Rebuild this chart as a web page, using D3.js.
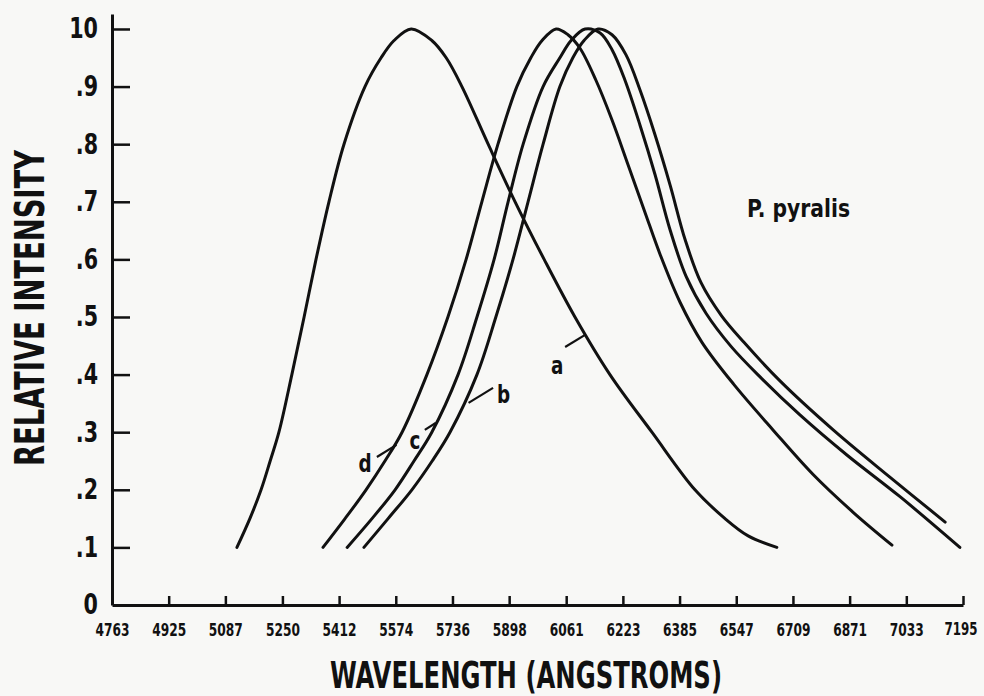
<!DOCTYPE html>
<html lang="en">
<head>
<meta charset="UTF-8">
<title>P. pyralis relative intensity</title>
<script src="https://d3js.org/d3.v7.min.js"></script>
<style>
    html, body { margin: 0; padding: 0; background: #f8f8f6; }
    svg { display: block; }
    text {
        font-family: "Liberation Sans Narrow", "DejaVu Sans Condensed", "Arial Narrow", sans-serif;
        font-weight: bold;
        fill: #111;
    }
    .curve { fill: none; stroke: #111; stroke-width: 3; stroke-linejoin: round; stroke-linecap: round; }
    .leader { stroke: #111; stroke-width: 2.2; }
</style>
</head>
<body>
<svg id="chart" width="984" height="696"></svg>
<script>
// wavelength (angstroms) tick marks and intensity ticks
const xTicks = [4763, 4925, 5087, 5250, 5412, 5574, 5736, 5898, 6061, 6223, 6385, 6547, 6709, 6871, 7033, 7195];
const yTicks = [0, 0.1, 0.2, 0.3, 0.4, 0.5, 0.6, 0.7, 0.8, 0.9, 1.0];
const yTickLabels = ["0", ".1", ".2", ".3", ".4", ".5", ".6", ".7", ".8", ".9", "10"];

// curves: [wavelength, relative intensity]
const curveA = [
    [5120, 0.10], [5157, 0.15], [5189, 0.20], [5215, 0.25], [5240, 0.30], [5277, 0.40],
    [5312, 0.50], [5346, 0.60], [5383, 0.70], [5426, 0.80], [5486, 0.90], [5532, 0.95],
    [5569, 0.98], [5618, 1.0],
    [5677, 0.98], [5718, 0.95], [5763, 0.90], [5838, 0.80], [5915, 0.70], [5998, 0.60],
    [6086, 0.50], [6186, 0.40], [6306, 0.30], [6429, 0.20], [6515, 0.15], [6581, 0.12],
    [6663, 0.10]
];
const curveB = [
    [5483, 0.10], [5552, 0.15], [5620, 0.20], [5678, 0.25], [5729, 0.30], [5806, 0.40],
    [5860, 0.50], [5909, 0.60], [5952, 0.70], [5995, 0.80], [6043, 0.90], [6080, 0.95],
    [6112, 0.98], [6152, 1.0],
    [6192, 0.990], [6232, 0.955], [6272, 0.894], [6315, 0.816], [6358, 0.729], [6401, 0.634],
    [6446, 0.560], [6504, 0.503], [6569, 0.456], [6672, 0.389], [6824, 0.304], [6986, 0.222],
    [7144, 0.144]
];
const curveC = [
    [5435, 0.10], [5506, 0.15], [5572, 0.20], [5626, 0.25], [5677, 0.30], [5752, 0.40],
    [5806, 0.50], [5855, 0.60], [5895, 0.70], [5938, 0.80], [5995, 0.90], [6043, 0.95],
    [6075, 0.98], [6115, 1.0],
    [6158, 0.993], [6192, 0.964], [6229, 0.911], [6272, 0.833], [6315, 0.747], [6358, 0.651],
    [6404, 0.570], [6461, 0.506], [6532, 0.449], [6615, 0.396], [6729, 0.330], [6864, 0.260],
    [7015, 0.188], [7186, 0.10]
];
const curveD = [
    [5366, 0.10], [5429, 0.15], [5489, 0.20], [5543, 0.25], [5592, 0.30], [5663, 0.40],
    [5723, 0.50], [5775, 0.60], [5820, 0.70], [5866, 0.80], [5920, 0.90], [5960, 0.95],
    [5992, 0.98], [6032, 1.0],
    [6066, 0.990], [6100, 0.967], [6146, 0.911], [6192, 0.842], [6238, 0.764], [6286, 0.682],
    [6331, 0.606], [6386, 0.526], [6449, 0.456], [6540, 0.383], [6652, 0.304], [6766, 0.227],
    [6881, 0.161], [6992, 0.104]
];

// curve letters: label position, leader start, leader end on curve
const curveLabels = [
    { name: "a", at: [6035, 0.415], from: [6058, 0.448], to: [6115, 0.469] },
    { name: "b", at: [5882, 0.365], from: [5852, 0.377], to: [5782, 0.351] },
    { name: "c", at: [5629, 0.285], from: [5657, 0.304], to: [5688, 0.316] },
    { name: "d", at: [5486, 0.245], from: [5520, 0.257], to: [5576, 0.278] }
];

const svg = d3.select("#chart");

const x = d3.scaleLinear().domain([4763, 7195]).range([112, 963]);
const y = d3.scaleLinear().domain([0, 1.026]).range([605, 14]);

// squeeze a text horizontally to mimic the narrow lettering
function squeeze(sel, k) {
    sel.each(function () {
        const w = this.getComputedTextLength();
        d3.select(this).attr("textLength", w * k).attr("lengthAdjust", "spacingAndGlyphs");
    });
}

// x axis, ticks pointing up
const xAxis = svg.append("g")
    .attr("transform", `translate(0,${y(0)})`)
    .call(d3.axisBottom(x).tickValues(xTicks).tickFormat(d3.format("d"))
        .tickSizeInner(-9).tickSizeOuter(0).tickPadding(18));
xAxis.select(".domain").attr("stroke", "#111").attr("stroke-width", 3);
xAxis.selectAll(".tick line").attr("stroke", "#111").attr("stroke-width", 2.5);
xAxis.selectAll(".tick").filter(d => d === 4763).select("line").remove();
xAxis.selectAll("text").attr("font-size", 18).attr("fill", "#111")
    .attr("textLength", 34).attr("lengthAdjust", "spacingAndGlyphs");
// last label sits against the right edge
xAxis.selectAll(".tick").filter(d => d === 7195).select("text")
    .attr("text-anchor", "end").attr("x", 14).attr("font-size", 17).attr("textLength", 33);

// y axis, ticks pointing right
const yAxis = svg.append("g")
    .attr("transform", `translate(${x(4763)},0)`)
    .call(d3.axisLeft(y).tickValues(yTicks).tickFormat((d, i) => yTickLabels[i])
        .tickSizeInner(-18).tickSizeOuter(0).tickPadding(14));
yAxis.select(".domain").attr("stroke", "#111").attr("stroke-width", 3);
yAxis.selectAll(".tick line").attr("stroke", "#111").attr("stroke-width", 2.5);
yAxis.selectAll(".tick").filter(d => d === 0).select("line").remove();
yAxis.selectAll("text").attr("font-size", 28).attr("fill", "#111").call(squeeze, 0.82);

const line = d3.line()
    .x(d => x(d[0]))
    .y(d => y(d[1]))
    .curve(d3.curveCatmullRom.alpha(0.5));

svg.selectAll(".curve")
    .data([curveA, curveB, curveC, curveD])
    .join("path")
    .attr("class", "curve")
    .attr("d", line);

svg.selectAll(".leader")
    .data(curveLabels)
    .join("line")
    .attr("class", "leader")
    .attr("x1", d => x(d.from[0])).attr("y1", d => y(d.from[1]))
    .attr("x2", d => x(d.to[0])).attr("y2", d => y(d.to[1]));

svg.selectAll(".curve-label")
    .data(curveLabels)
    .join("text")
    .attr("class", "curve-label")
    .attr("x", d => x(d.at[0]))
    .attr("y", d => y(d.at[1]))
    .attr("text-anchor", "middle")
    .attr("dy", "0.35em")
    .attr("font-size", 24)
    .text(d => d.name)
    .call(squeeze, 0.85);

// species label
svg.append("text")
    .attr("x", 747).attr("y", 217)
    .attr("font-size", 24)
    .attr("textLength", 103).attr("lengthAdjust", "spacingAndGlyphs")
    .text("P. pyralis");

// axis titles
svg.append("text")
    .attr("x", 526).attr("y", 688)
    .attr("text-anchor", "middle")
    .attr("font-size", 38)
    .attr("textLength", 392).attr("lengthAdjust", "spacingAndGlyphs")
    .text("WAVELENGTH (ANGSTROMS)");

svg.append("text")
    .attr("transform", "translate(44,308) rotate(-90)")
    .attr("text-anchor", "middle")
    .attr("font-size", 40)
    .attr("textLength", 316).attr("lengthAdjust", "spacingAndGlyphs")
    .text("RELATIVE INTENSITY");
</script>
</body>
</html>
